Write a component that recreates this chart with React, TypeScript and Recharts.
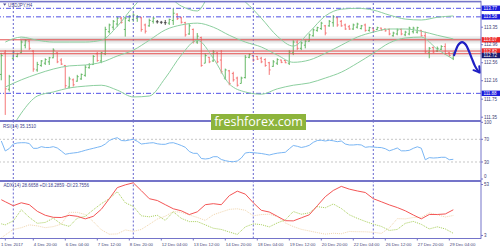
import React from 'react';
import {
  Bar,
  ComposedChart,
  Line,
  ReferenceArea,
  ReferenceLine,
  XAxis,
  YAxis,
} from 'recharts';

const FRAME = '#7474c9';
const AXIS_TEXT = '#3d3d74';
const UP = '#55b155';
const DOWN = '#f46a6a';
const FLAT = '#3a3a3a';
const BAND = '#8ccf9f';
const ARROW = '#1f1fc4';
const FONT = 'Liberation Sans, Arial, sans-serif';

// H4 bars, index -1 .. 112
const opens = [
  112.3,
  112.78, 111.97, 112.66, 112.7, 112.78, 112.95, 113.04, 112.82, 112.4, 112.5,
  112.55, 112.58, 112.67, 112.78, 112.62, 112.5, 112.02, 112.18, 112.15, 112.2,
  112.28, 112.45, 112.52, 112.76, 112.6, 112.76, 113.25, 113.35, 113.42, 113.55,
  113.3, 113.5, 113.52, 113.55, 113.56, 113.4, 113.38, 113.48, 113.47, 113.46,
  113.45, 113.44, 113.5, 113.64, 113.56, 113.45, 113.2, 113.3, 113.02, 113.12,
  112.55, 112.68, 112.6, 112.78, 112.62, 112.22, 112.38, 112.32, 112.22, 112.1,
  112.23, 112.68, 112.72, 112.7, 112.66, 112.63, 112.56, 112.48, 112.55, 112.62,
  112.61, 112.55, 112.78, 113.02, 112.88, 112.95, 113.04, 113.16, 113.28, 113.32,
  113.38, 113.38, 113.45, 113.56, 113.48, 113.4, 113.36, 113.31, 113.35, 113.32,
  113.4, 113.28, 113.33, 113.3, 113.33, 113.31, 113.3, 113.16, 113.2, 113.3,
  113.18, 113.2, 113.25, 113.24, 113.28, 113.16, 112.78, 112.9, 112.82, 112.86,
  112.92, 112.78, 112.66,
];
const highs = [
  112.78,
  112.84, 112.29, 112.84, 112.78, 113.06, 113.08, 113.06, 112.84, 112.58, 112.62,
  112.66, 112.69, 112.88, 112.8, 112.66, 112.51, 112.25, 112.21, 112.29, 112.32,
  112.51, 112.55, 112.73, 112.8, 112.8, 113.36, 113.43, 113.51, 113.58, 113.58,
  113.58, 113.62, 113.66, 113.62, 113.58, 113.43, 113.54, 113.58, 113.51, 113.49,
  113.51, 113.54, 113.77, 113.66, 113.58, 113.47, 113.43, 113.32, 113.22, 113.14,
  112.77, 112.69, 112.84, 112.8, 112.84, 112.43, 112.4, 112.36, 112.25, 112.25,
  112.73, 112.77, 112.73, 112.71, 112.69, 112.66, 112.58, 112.62, 112.66, 112.63,
  112.62, 112.84, 113.06, 113.06, 113.03, 113.06, 113.21, 113.32, 113.36, 113.47,
  113.4, 113.51, 113.62, 113.58, 113.51, 113.43, 113.4, 113.43, 113.45, 113.4,
  113.43, 113.36, 113.34, 113.36, 113.34, 113.32, 113.32, 113.25, 113.32, 113.32,
  113.27, 113.36, 113.36, 113.36, 113.29, 113.25, 112.91, 112.92, 112.92, 112.95,
  112.99, 112.8, 112.8,
];
const lows = [
  112.17,
  111.4, 111.92, 112.62, 112.68, 112.77, 112.88, 112.84, 112.36, 112.36, 112.47,
  112.51, 112.51, 112.66, 112.55, 112.51, 111.99, 111.99, 112.03, 112.14, 112.18,
  112.25, 112.43, 112.51, 112.58, 112.55, 112.73, 113.21, 113.29, 113.36, 113.43,
  113.14, 113.47, 113.47, 113.47, 113.25, 113.21, 113.36, 113.43, 113.43, 113.42,
  113.4, 113.4, 113.4, 113.51, 113.43, 113.14, 113.18, 112.99, 112.98, 112.47,
  112.55, 112.55, 112.58, 112.55, 112.32, 112.18, 112.06, 112.14, 112.03, 112.1,
  112.21, 112.66, 112.58, 112.62, 112.55, 112.47, 112.29, 112.47, 112.51, 112.55,
  112.55, 112.51, 112.73, 112.84, 112.84, 112.88, 113.03, 113.14, 113.25, 113.29,
  113.17, 113.36, 113.36, 113.36, 113.36, 113.29, 113.29, 113.29, 113.32, 113.3,
  113.25, 113.25, 113.25, 113.29, 113.27, 113.25, 113.17, 113.14, 113.17, 113.17,
  113.15, 113.17, 113.21, 113.21, 113.14, 112.77, 112.66, 112.77, 112.8, 112.84,
  112.73, 112.69, 112.62,
];
const closes = [
  112.72,
  111.98, 112.25, 112.8, 112.76, 113.02, 113.05, 112.88, 112.42, 112.52, 112.6,
  112.63, 112.67, 112.84, 112.58, 112.53, 112.05, 112.2, 112.07, 112.25, 112.3,
  112.46, 112.52, 112.7, 112.61, 112.78, 113.3, 113.4, 113.48, 113.55, 113.46,
  113.55, 113.6, 113.62, 113.58, 113.3, 113.26, 113.5, 113.55, 113.47, 113.46,
  113.45, 113.52, 113.66, 113.54, 113.46, 113.18, 113.38, 113.03, 113.15, 112.5,
  112.72, 112.58, 112.8, 112.58, 112.36, 112.4, 112.1, 112.18, 112.06, 112.22,
  112.68, 112.74, 112.62, 112.64, 112.58, 112.5, 112.4, 112.58, 112.63, 112.57,
  112.56, 112.8, 113.02, 112.88, 113.0, 113.04, 113.18, 113.29, 113.34, 113.44,
  113.22, 113.48, 113.58, 113.4, 113.38, 113.31, 113.31, 113.4, 113.42, 113.38,
  113.28, 113.34, 113.27, 113.34, 113.29, 113.27, 113.2, 113.22, 113.29, 113.2,
  113.24, 113.33, 113.33, 113.34, 113.16, 112.8, 112.88, 112.8, 112.88, 112.92,
  112.76, 112.72, 112.74,
];

// Bollinger bands (20, 2) read every 4 bars
const bandIdx = [0, 4, 8, 12, 16, 20, 24, 28, 32, 36, 40, 44, 48, 52, 56, 60, 64, 68, 72, 76, 80, 84, 88, 92, 96, 100, 104, 108, 112];
const bandUpper = [113.02, 113.13, 113.06, 113.02, 113.02, 113.02, 113.06, 113.37, 113.8, 114.1, 114.06, 113.82, 113.71, 114.15, 114.13, 113.91, 113.55, 113.15, 112.93, 113.24, 113.6, 113.75, 113.77, 113.73, 113.62, 113.53, 113.51, 113.57, 113.6];
const bandMid = [112.02, 112.18, 112.31, 112.42, 112.49, 112.51, 112.57, 112.71, 112.84, 113.06, 113.29, 113.4, 113.44, 113.35, 113.17, 113.02, 112.91, 112.73, 112.57, 112.62, 112.77, 112.95, 113.13, 113.24, 113.31, 113.31, 113.26, 113.17, 113.09];
const bandLower = [110.84, 111.44, 111.82, 111.91, 112.0, 112.04, 112.06, 111.95, 111.8, 111.82, 112.22, 112.73, 113.06, 112.66, 112.09, 111.91, 111.86, 111.98, 112.06, 112.11, 112.22, 112.35, 112.55, 112.77, 113.0, 113.11, 113.13, 112.86, 112.64];

// RSI(14), bars -1 .. 112
const rsiValues = [
  67.0,
  49.4, 53.8, 61.7, 63.5, 64.0, 64.0, 62.6, 54.1, 54.1, 57.0,
  55.6, 55.6, 57.0, 54.7, 49.4, 43.6, 45.0, 45.9, 46.7, 48.5,
  50.6, 52.4, 54.1, 55.9, 57.7, 61.7, 67.9, 70.9, 72.8, 67.9,
  67.4, 68.8, 70.0, 66.5, 61.7, 62.6, 63.5, 64.0, 62.1, 61.2,
  61.2, 63.5, 64.0, 61.7, 59.1, 55.9, 48.5, 45.3, 45.3, 36.2,
  35.3, 36.2, 39.3, 39.3, 34.4, 32.3, 30.9, 30.5, 31.7, 37.0,
  45.9, 46.9, 46.4, 45.7, 45.0, 43.7, 42.3, 44.1, 45.5, 46.4,
  47.1, 53.3, 59.1, 57.7, 55.6, 57.0, 59.4, 64.7, 67.9, 68.4,
  67.0, 68.4, 67.4, 65.8, 67.0, 61.7, 60.0, 60.0, 60.7, 60.0,
  55.9, 56.8, 56.4, 55.7, 55.4, 53.4, 49.7, 52.0, 54.7, 49.7,
  49.7, 50.6, 54.1, 56.8, 54.3, 33.9, 37.7, 37.0, 37.4, 38.3,
  38.3, 34.0, 34.7,
];

// ADX(14) read every 2 bars
const adxIdx = [-1, 0, 2, 4, 6, 8, 10, 12, 14, 16, 18, 20, 22, 24, 26, 28, 30, 32, 34, 36, 38, 40, 42, 44, 46, 48, 50, 52, 54, 56, 58, 60, 62, 64, 66, 68, 70, 72, 74, 76, 78, 80, 82, 84, 86, 88, 90, 92, 94, 96, 98, 100, 102, 104, 106, 108, 110, 112];
const adxMain = [38.1, 36.1, 32.2, 35.1, 33.2, 26.7, 22.8, 20.8, 20.6, 22.8, 21.8, 19.3, 21.8, 28.7, 39.1, 50.0, 52.7, 54.7, 47.0, 39.1, 37.3, 33.2, 29.2, 27.2, 23.5, 26.2, 33.2, 34.2, 33.2, 42.1, 46.5, 43.6, 35.1, 27.7, 26.0, 21.8, 17.5, 17.3, 20.3, 23.3, 32.2, 41.1, 47.2, 51.2, 48.5, 46.7, 45.2, 39.1, 36.1, 33.0, 30.4, 27.2, 23.1, 19.3, 23.6, 23.6, 24.1, 28.2];
const plusDi = [14.4, 13.4, 17.3, 28.2, 20.8, 14.9, 15.8, 20.0, 14.1, 11.9, 20.0, 21.8, 28.2, 34.2, 39.1, 46.0, 35.1, 31.5, 22.3, 21.3, 22.8, 17.8, 26.2, 19.8, 16.6, 16.6, 13.4, 10.1, 8.9, 6.4, 4.0, 11.4, 14.4, 13.6, 11.4, 15.3, 18.3, 26.5, 23.8, 25.2, 31.3, 30.2, 33.9, 29.5, 23.3, 19.8, 16.8, 14.1, 11.9, 7.9, 8.9, 14.9, 16.8, 13.9, 9.4, 11.5, 9.4, 5.1];
const minusDi = [0.5, 3.5, 8.9, 10.6, 13.4, 12.4, 10.6, 11.7, 14.1, 25.7, 25.7, 23.5, 16.6, 8.6, 4.2, 4.5, 8.4, 7.0, 8.9, 13.9, 19.1, 21.9, 26.5, 25.7, 23.1, 20.7, 17.8, 23.3, 26.0, 28.6, 29.2, 27.7, 22.3, 23.5, 23.9, 21.4, 15.3, 11.7, 9.0, 7.4, 5.8, 4.3, 5.1, 4.7, 6.9, 6.7, 6.6, 6.1, 5.0, 10.4, 19.5, 19.3, 20.6, 20.8, 25.2, 23.3, 21.1, 22.6];

// hand drawn forecast arrow
const forecastIdx = [112.2, 113.2, 114.2, 115.2, 115.9, 116.7, 117.4, 118.4];
const forecastPrice = [112.73, 112.95, 113.02, 112.95, 112.82, 112.64, 112.49, 112.35];

const tickBars = [0, 7, 15, 23, 31, 39, 47, 55, 63, 71, 79, 87, 95, 103, 111];
const tickLabels = ['1 Dec 2017', '4 Dec 20:00', '6 Dec 04:00', '7 Dec 12:00', '8 Dec 20:00', '12 Dec 04:00', '13 Dec 12:00', '14 Dec 20:00', '18 Dec 04:00', '19 Dec 12:00', '20 Dec 20:00', '22 Dec 04:00', '26 Dec 12:00', '27 Dec 20:00', '29 Dec 04:00'];
const priceTicks = [113.35, 112.96, 112.56, 112.16, 111.75, 111.35];
const rsiTicks = [0, 30, 70, 100];
const adxTicks = [3, 53];
const weekStarts = [2, 32, 62, 92];

const blueLevels = [113.77, 113.58, 111.88];
const redLevels = [113.07, 112.82, 112.76];
const redTags = ['113.07', '112.82', ''];
const bidPrice = 112.72;

const X_DOMAIN: [number, number] = [-1.325, 118.925];

const candles = opens.map((o, k) => ({ i: k - 1, o, h: highs[k], l: lows[k], c: closes[k] }));
const bandData = bandIdx.map((i, k) => ({ i, u: bandUpper[k], m: bandMid[k], d: bandLower[k] }));
const rsiData = rsiValues.map((v, k) => ({ i: k - 1, v }));
const adxData = adxIdx.map((i, k) => ({ i, adx: adxMain[k], plus: plusDi[k], minus: minusDi[k] }));
const forecast = forecastIdx.map((i, k) => ({ i, p: forecastPrice[k] }));

const tickStyle = { fontSize: 4.5, fill: AXIS_TEXT, fontFamily: FONT };

const Candle = (props: any) => {
  const { x, y, width, height, payload } = props;
  if (x == null || y == null) return <g />;
  const cx = x + width / 2;
  const top = Math.min(y, y + height);
  const span = Math.abs(height);
  const range = payload.h - payload.l || 1;
  const yOf = (v: number) => top + ((payload.h - v) / range) * span;
  const color = payload.c > payload.o ? UP : payload.c < payload.o ? DOWN : FLAT;
  return (
    <g stroke={color} strokeWidth={0.9}>
      <line x1={cx} x2={cx} y1={top} y2={top + span} />
      <line x1={cx - 1.4} x2={cx} y1={yOf(payload.o)} y2={yOf(payload.o)} />
      <line x1={cx} x2={cx + 1.4} y1={yOf(payload.c)} y2={yOf(payload.c)} />
    </g>
  );
};

const PriceTag = (props: any) => {
  const { viewBox, text, bg } = props;
  if (!viewBox || !text) return <g />;
  const x = viewBox.x + viewBox.width + 0.5;
  const y = viewBox.y;
  return (
    <g>
      <rect x={x} y={y - 2.7} width={19} height={5.4} fill={bg} />
      <text x={x + 2} y={y} dy="0.36em" fontSize={4.5} fill="#fff" fontFamily={FONT}>
        {text}
      </text>
    </g>
  );
};

// keeps the lowest label of a panel inside the panel
const PanelTick = (props: any) => {
  const { x, y, payload, lowest } = props;
  return (
    <text x={x} y={payload.value === lowest ? y - 2.4 : y} dy="0.355em" {...tickStyle} textAnchor="start">
      {payload.value}
    </text>
  );
};

const ArrowHead = (props: any) => {
  const { cx, cy, index } = props;
  if (index !== forecastIdx.length - 1) return <g key={index} />;
  return (
    <path
      key={index}
      d={`M${cx + 0.4} ${cy - 6} L${cx + 1} ${cy + 0.5} L${cx - 5.4} ${cy - 2}`}
      fill="none"
      stroke={ARROW}
      strokeWidth={2}
      strokeLinecap="round"
      strokeLinejoin="round"
    />
  );
};

const DateTick = (props: any) => {
  const { x, y, payload, index } = props;
  const k = tickBars.indexOf(payload.value);
  return (
    <text
      x={index === 0 ? x - 4.3 : x + 0.5}
      y={y}
      dy="0.71em"
      fontSize={4.3}
      fill={AXIS_TEXT}
      fontFamily={FONT}
      textAnchor="start"
    >
      {tickLabels[k]}
    </text>
  );
};

const separators = (key: string) =>
  weekStarts.map((w) => (
    <ReferenceLine key={key + w} x={w} stroke="#6767cf" strokeDasharray="2 2" />
  ));

export default function App() {
  return (
    <div style={{ position: 'absolute', left: 0, top: 0, width: 500, height: 250, background: '#fff', overflow: 'hidden' }}>
      <div style={{ position: 'absolute', left: 0, top: 0 }}>
        <ComposedChart width={500} height={123} data={candles} margin={{ top: 2, right: 0, bottom: 2, left: 0 }}>
          <XAxis type="number" dataKey="i" domain={X_DOMAIN} allowDataOverflow hide />
          <YAxis
            orientation="right"
            width={19}
            type="number"
            domain={[111.265, 113.91]}
            allowDataOverflow
            ticks={priceTicks}
            interval={0}
            tick={tickStyle}
            tickSize={2}
            tickMargin={1}
            axisLine={false}
            tickLine={{ stroke: FRAME }}
          />
          <ReferenceArea x1={3.7} x2={118.925} y1={112.99} y2={113.15} fill="#8c8c8c" fillOpacity={0.16} stroke="none" />
          <ReferenceArea x1={3.7} x2={118.925} y1={113.03} y2={113.11} fill="#8c8c8c" fillOpacity={0.2} stroke="none" />
          <ReferenceArea x1={-1.325} x2={118.925} y1={112.69} y2={112.88} fill="#b4b4b4" fillOpacity={0.2} stroke="none" />
          {separators('p')}
          {blueLevels.map((p) => (
            <ReferenceLine
              key={'b' + p}
              y={p}
              stroke="#5050e6"
              strokeDasharray="5 2 1 2"
              label={<PriceTag text={p.toFixed(2)} bg="#1c1cdc" />}
            />
          ))}
          {redLevels.map((p, k) => (
            <ReferenceLine
              key={'r' + p}
              y={p}
              stroke="#e44e4e"
              label={<PriceTag text={redTags[k]} bg="#ee2a2a" />}
            />
          ))}
          <ReferenceLine y={bidPrice} stroke="none" label={<PriceTag text={bidPrice.toFixed(2)} bg="#1b1b6e" />} />
          <Line data={bandData} dataKey="u" type="monotone" stroke={BAND} strokeWidth={1} dot={false} isAnimationActive={false} />
          <Line data={bandData} dataKey="m" type="monotone" stroke={BAND} strokeWidth={1} dot={false} isAnimationActive={false} />
          <Line data={bandData} dataKey="d" type="monotone" stroke={BAND} strokeWidth={1} dot={false} isAnimationActive={false} />
          <Bar dataKey={(d: any) => [d.l, d.h]} barSize={2} shape={<Candle />} isAnimationActive={false} />
          <Line
            data={forecast}
            dataKey="p"
            type="monotone"
            stroke={ARROW}
            strokeWidth={2.2}
            strokeLinecap="round"
            dot={<ArrowHead />}
            isAnimationActive={false}
          />
        </ComposedChart>
      </div>

      <div style={{ position: 'absolute', left: 0, top: 120 }}>
        <ComposedChart width={500} height={60} data={rsiData} margin={{ top: 2.3, right: 0, bottom: 1, left: 0 }}>
          <XAxis type="number" dataKey="i" domain={X_DOMAIN} allowDataOverflow hide />
          <YAxis
            orientation="right"
            width={19}
            type="number"
            domain={[0, 100]}
            ticks={rsiTicks}
            interval={0}
            tick={<PanelTick lowest={0} />}
            tickSize={2}
            tickMargin={1}
            axisLine={false}
            tickLine={{ stroke: FRAME }}
          />
          <ReferenceLine y={70} stroke="#c6c6c6" strokeDasharray="2 2" />
          <ReferenceLine y={30} stroke="#c6c6c6" strokeDasharray="2 2" />
          {separators('r')}
          <Line dataKey="v" type="linear" stroke="#7ab6f4" strokeWidth={1} dot={false} isAnimationActive={false} />
        </ComposedChart>
      </div>

      <div style={{ position: 'absolute', left: 0, top: 180 }}>
        <ComposedChart width={500} height={70} data={adxData} margin={{ top: 2, right: 0, bottom: 0, left: 0 }}>
          <XAxis
            type="number"
            dataKey="i"
            domain={X_DOMAIN}
            allowDataOverflow
            ticks={tickBars}
            interval={0}
            height={11.5}
            tick={<DateTick />}
            tickSize={2}
            tickLine={{ stroke: FRAME }}
            axisLine={{ stroke: FRAME }}
          />
          <YAxis
            orientation="right"
            width={19}
            type="number"
            domain={[0, 55.5]}
            ticks={adxTicks}
            interval={0}
            tick={tickStyle}
            tickSize={2}
            tickMargin={1}
            axisLine={false}
            tickLine={{ stroke: FRAME }}
          />
          {separators('a')}
          <Line dataKey="minus" type="linear" stroke="#f1d6ae" strokeDasharray="1 1" strokeWidth={1} dot={false} isAnimationActive={false} />
          <Line dataKey="plus" type="linear" stroke="#a8cf5a" strokeDasharray="1 1" strokeWidth={1} dot={false} isAnimationActive={false} />
          <Line dataKey="adx" type="linear" stroke="#f45555" strokeWidth={1} dot={false} isAnimationActive={false} />
        </ComposedChart>
      </div>

      <svg width={500} height={250} style={{ position: 'absolute', left: 0, top: 0, pointerEvents: 'none' }}>
        <rect x={0} y={0.8} width={481} height={1.6} fill={FRAME} />
        <rect x={0} y={120} width={481} height={2} fill={FRAME} />
        <rect x={0} y={180} width={481} height={2} fill={FRAME} />
        <rect x={480.5} y={0.8} width={1} height={238} fill={FRAME} />
        <path d="M3 3.6 L6.4 3.6 L4.7 5.8 Z" fill="#4d4d99" />
        <text x={8} y={5} dy="0.35em" fontSize={4.5} fill="#3c3c8c" fontFamily={FONT}>
          USDJPY,H4
        </text>
        <text x={3} y={126} dy="0.35em" fontSize={4.5} fill="#3c3c8c" fontFamily={FONT}>
          RSI(14) 35.1510
        </text>
        <text x={3.5} y={185.3} dy="0.35em" fontSize={4.5} fill="#3c3c8c" fontFamily={FONT}>
          ADX(14) 28.6658 +DI:18.2859 -DI:23.7556
        </text>
      </svg>

      <div
        style={{
          position: 'absolute',
          left: 211,
          top: 114,
          width: 95,
          height: 16,
          background: '#8db43c',
          color: '#fff',
          fontFamily: 'Open Sans, sans-serif',
          fontSize: 12.5,
          lineHeight: '16px',
          textAlign: 'center',
        }}
      >
        freshforex.com
      </div>
    </div>
  );
}
